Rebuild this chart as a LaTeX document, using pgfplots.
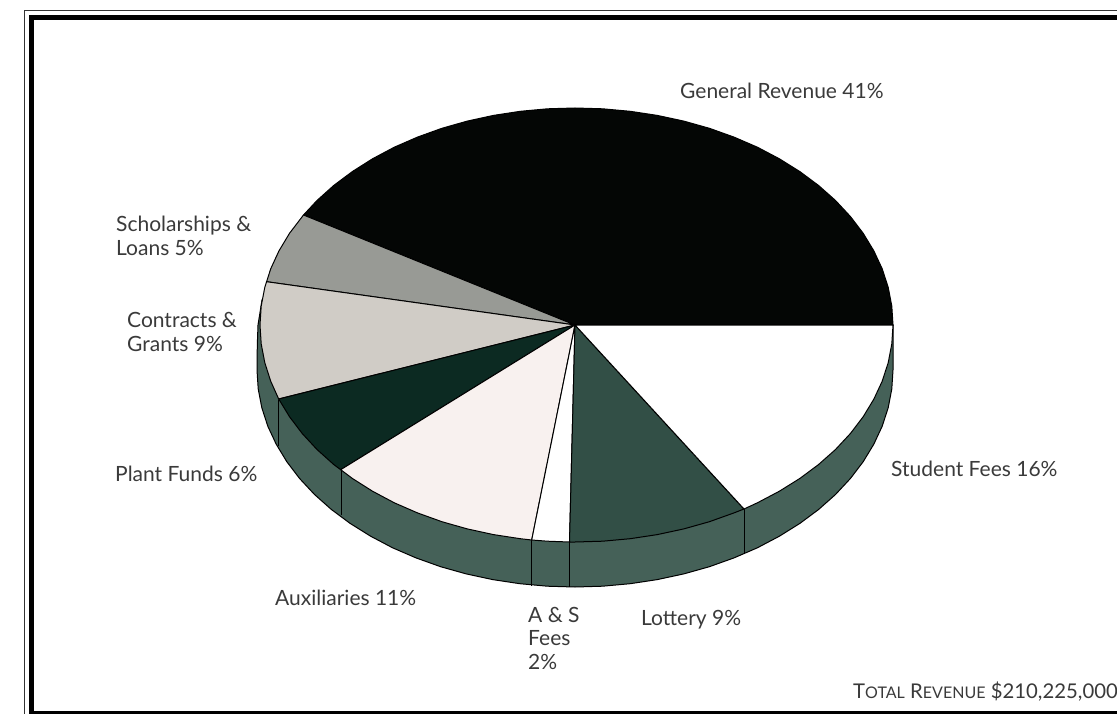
\documentclass[border=0pt]{standalone}
\usepackage{fontspec}
\setmainfont{Lato}
\usepackage{pgfplots}
\pgfplotsset{compat=1.18}
\definecolor{txt}{HTML}{3A3A3A}
\definecolor{genrev}{HTML}{040605}
\definecolor{schol}{HTML}{989A95}
\definecolor{contr}{HTML}{D0CCC6}
\definecolor{plant}{HTML}{0C2A22}
\definecolor{aux}{HTML}{F8F1EF}
\definecolor{lott}{HTML}{324F46}
\definecolor{wall}{HTML}{456158}
\newcommand{\lab}[2]{\node[anchor=base west,inner sep=0pt,yshift=-1.5pt,text=txt,font=\fontsize{21}{25}\selectfont] at (axis cs:#1) {#2};}
\newcommand{\totbig}[1]{{\fontsize{20.3}{24}\selectfont #1}}
\newcommand{\totsm}[1]{{\fontsize{16}{20}\selectfont #1}}
\begin{document}
\begin{tikzpicture}
\useasboundingbox (0,0) rectangle (1117pt,714pt);
\begin{axis}[
  at={(0,0)}, anchor=south west,
  width=1117pt, height=714pt, scale only axis,
  xmin=0, xmax=1117, ymin=0, ymax=714,
  y dir=reverse, hide axis, clip=true,
]
% frame
\addplot[draw=black!80, line width=1.5pt, forget plot] coordinates {(1117,10.5) (24.5,10.5) (24.5,714)};
\addplot[draw=black, line width=5pt, forget plot] coordinates {(1117,18) (31.5,18) (31.5,714)};
\addplot[draw=black, line width=4pt, forget plot] coordinates {(33,712.5) (1117,712.5)};
% side wall
\addplot[fill=wall, draw=black, line width=1pt] coordinates {
(893,325)
(893,370) (891.8,388.9) (888.2,407.7) (882.2,426.2) (873.8,444.2) (863.2,461.7) (850.4,478.5) (835.5,494.5)
(818.6,509.5) (799.9,523.4) (779.4,536.2) (757.4,547.8) (734,557.9) (709.4,566.7) (683.8,573.9) (657.3,579.6)
(630.2,583.7) (602.7,586.2) (575,587) (547.3,586.2) (519.8,583.7) (492.7,579.6) (466.2,573.9) (440.6,566.7)
(416,557.9) (392.6,547.8) (370.6,536.2) (350.1,523.4) (331.4,509.5) (314.5,494.5) (299.6,478.5) (286.8,461.7)
(276.2,444.2) (267.8,426.2) (261.8,407.7) (258.2,388.9) (257,370) (257.3,345) (258,325) (262,300)
} --cycle;
\addplot[draw=black, line width=1pt] coordinates {(278,399.5) (278,446)};
\addplot[draw=black, line width=1pt] coordinates {(341,470) (341,515)};
\addplot[draw=black, line width=1pt] coordinates {(531.7,540) (531.7,585.5)};
\addplot[draw=black, line width=1pt] coordinates {(569.5,542) (569.5,587)};
\addplot[draw=black, line width=1pt] coordinates {(744,509) (744,554)};
% General Revenue 41%
\addplot[fill=genrev, draw=black, line width=1pt] coordinates {
(575,325) (893,325) (891.8,306.1) (888.2,287.3) (882.2,268.8) (873.8,250.8) (863.2,233.3) (850.4,216.5) (835.5,200.5)
(818.6,185.5) (799.9,171.6) (779.4,158.8) (757.4,147.2) (734,137.1) (709.4,128.3) (683.8,121.1) (657.3,115.4)
(630.2,111.3) (602.7,108.8) (575,108) (547.5,108.8) (520.3,111.3) (493.5,115.4) (467.3,121.1) (441.9,128.3)
(417.5,137.1) (394.3,147.2) (372.5,158.8) (352.3,171.6) (333.7,185.5) (317,200.5) (303.5,215)
} --cycle;
% Scholarships & Loans 5%
\addplot[fill=schol, draw=black, line width=1pt] coordinates {
(575,325) (303.5,215) (289.5,233.3) (279,250.8) (270.7,268.8) (266.6,281.7)
} --cycle;
% Contracts & Grants 9%
\addplot[fill=contr, draw=black, line width=1pt] coordinates {
(575,325) (266.6,281.7) (264.8,287.3) (261.2,306.1) (260,325) (261.2,343.9) (264.8,362.7) (270.7,381.2) (278.7,399)
} --cycle;
% Plant Funds 6%
\addplot[fill=plant, draw=black, line width=1pt] coordinates {
(575,325) (278.7,399) (289.5,416.7) (302.2,433.5) (317,449.5) (333.7,464.5) (340.7,469.7)
} --cycle;
% Auxiliaries 11%
\addplot[fill=aux, draw=black, line width=1pt] coordinates {
(575,325) (340.7,469.7) (352.3,478.4) (372.5,491.2) (394.3,502.8) (417.5,512.9) (441.9,521.7) (467.3,528.9) (493.5,534.6)
(520.3,538.7) (531.7,540)
} --cycle;
% A & S Fees 2%
\addplot[fill=white, draw=black, line width=1pt] coordinates {
(575,325) (531.7,540) (547.5,541.2) (569.5,542)
} --cycle;
% Lottery 9%
\addplot[fill=lott, draw=black, line width=1pt] coordinates {
(575,325) (569.5,542) (575,542) (602.7,541.2) (630.2,538.7) (657.3,534.6) (683.8,528.9) (709.4,521.7) (734,512.9) (744,509)
} --cycle;
% Student Fees 16%
\addplot[fill=white, draw=black, line width=1pt] coordinates {
(575,325) (744,509) (757.4,502.8) (779.4,491.2) (799.9,478.4) (818.6,464.5) (835.5,449.5) (850.4,433.5) (863.2,416.7)
(873.8,399.2) (882.2,381.2) (888.2,362.7) (891.8,343.9) (893,325)
} --cycle;
% labels
\lab{680,97}{General Revenue 41\%}
\lab{116,230}{Scholarships \&}
\lab{116,254}{Loans 5\%}
\lab{127,326}{Contracts \&}
\lab{127,350}{Grants 9\%}
\lab{115,480}{Plant Funds 6\%}
\lab{891,475}{Student Fees 16\%}
\lab{275,604}{Auxiliaries 11\%}
\lab{528,621}{A \& S}
\lab{528,644}{Fees}
\lab{528,668}{2\%}
\lab{641,624}{Lottery 9\%}
\lab{853,697}{\totbig{T}\totsm{OTAL} \totbig{R}\totsm{EVENUE} \totbig{\$210,225,000}}
\end{axis}
\end{tikzpicture}
\end{document}
